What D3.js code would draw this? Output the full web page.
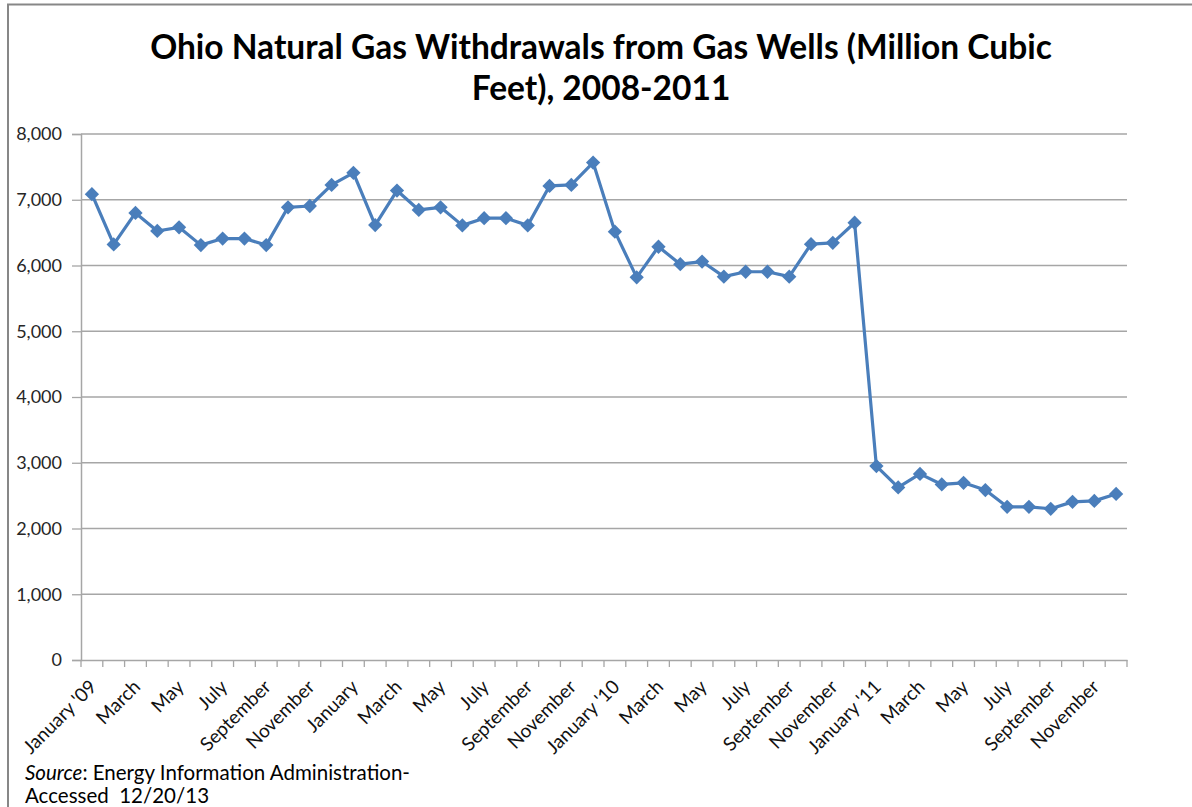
<!DOCTYPE html>
<html>
<head>
<meta charset="utf-8">
<script src="https://cdn.jsdelivr.net/npm/d3@7"></script>
<style>
  html, body { margin: 0; padding: 0; background: #fff; }
  svg { display: block; }
  text { font-family: Lato, "Open Sans", sans-serif; }
</style>
</head>
<body>
<svg id="chart" width="1192" height="807"></svg>
<script>
// Monthly withdrawals from Ohio gas wells, million cubic feet
const categories = [
  "January '09", "February", "March", "April", "May", "June",
  "July", "August", "September", "October", "November", "December",
  "January", "February", "March", "April", "May", "June",
  "July", "August", "September", "October", "November", "December",
  "January '10", "February", "March", "April", "May", "June",
  "July", "August", "September", "October", "November", "December",
  "January '11", "February", "March", "April", "May", "June",
  "July", "August", "September", "October", "November", "December"
];
const withdrawals = [
  7085, 6320, 6800, 6525, 6580, 6310, 6410, 6410, 6310, 6885, 6905, 7225,
  7410, 6615, 7140, 6845, 6885, 6610, 6720, 6720, 6610, 7210, 7225, 7565,
  6515, 5820, 6285, 6020, 6060, 5830, 5905, 5905, 5830, 6325, 6345, 6650,
  2950, 2625, 2830, 2670, 2695, 2585, 2330, 2330, 2300, 2405, 2420, 2525
];
const yTicks = [0, 1000, 2000, 3000, 4000, 5000, 6000, 7000, 8000];
const titleLines = ["Ohio Natural Gas Withdrawals from Gas Wells (Million Cubic", "Feet), 2008-2011"];

const svg = d3.select("#chart");
const plot = { left: 81, right: 1127, top: 134, bottom: 660 };

// outer frame of the chart area
svg.append("rect")
  .attr("x", 8).attr("y", 4.5)
  .attr("width", 1300).attr("height", 1000)
  .attr("fill", "none").attr("stroke", "#878787").attr("stroke-width", 2);

const x = d3.scaleBand().domain(d3.range(categories.length)).range([plot.left, plot.right]).padding(0);
const y = d3.scaleLinear().domain([0, 8000]).range([plot.bottom, plot.top]);
const cx = i => x(i) + x.bandwidth() / 2;

// horizontal gridlines
svg.append("g").selectAll("line").data(yTicks.filter(d => d > 0)).join("line")
  .attr("x1", plot.left).attr("x2", plot.right)
  .attr("y1", d => y(d)).attr("y2", d => y(d))
  .attr("stroke", "#a6a6a6").attr("stroke-width", 1.3);

// y axis
const yAxis = svg.append("g")
  .attr("transform", `translate(${plot.left},0)`)
  .call(d3.axisLeft(y).tickValues(yTicks).tickSize(9).tickPadding(10).tickFormat(d3.format(",")));
yAxis.select(".domain").attr("stroke", "#a6a6a6").attr("stroke-width", 1.5);
yAxis.selectAll(".tick line").attr("stroke", "#a6a6a6").attr("stroke-width", 1.3);
yAxis.selectAll(".tick text")
  .attr("font-family", "Lato, sans-serif").attr("font-size", 18).attr("fill", "#262626");

// x axis: labels on every other month, tick marks on category boundaries
const xAxis = svg.append("g")
  .attr("transform", `translate(0,${plot.bottom})`)
  .call(d3.axisBottom(x).tickSize(0).tickFormat(i => i % 2 === 0 ? categories[i] : ""));
xAxis.select(".domain").attr("stroke", "#a6a6a6").attr("stroke-width", 1.5);
xAxis.selectAll(".tick text")
  .attr("font-family", "Lato, sans-serif").attr("font-size", 19).attr("fill", "#111")
  .attr("text-anchor", "end")
  .attr("x", 0).attr("y", 0).attr("dy", 0)
  .attr("transform", "translate(6,28) rotate(-45)");

svg.append("g").selectAll("line").data(d3.range(categories.length + 1)).join("line")
  .attr("x1", i => plot.left + i * x.bandwidth()).attr("x2", i => plot.left + i * x.bandwidth())
  .attr("y1", plot.bottom).attr("y2", plot.bottom + 7)
  .attr("stroke", "#a6a6a6").attr("stroke-width", 1.3);

// series line and diamond markers
const line = d3.line().x((d, i) => cx(i)).y(d => y(d));
svg.append("path").datum(withdrawals)
  .attr("d", line).attr("fill", "none")
  .attr("stroke", "#4a7ebb").attr("stroke-width", 3.2).attr("stroke-linejoin", "round");

const diamond = d3.symbol().type(d3.symbolDiamond2).size(130);
svg.append("g").selectAll("path").data(withdrawals).join("path")
  .attr("d", diamond)
  .attr("transform", (d, i) => `translate(${cx(i)},${y(d)})`)
  .attr("fill", "#4a7ebb");

// title
svg.append("g").selectAll("text").data(titleLines).join("text")
  .attr("x", 601).attr("y", (d, i) => 59 + i * 41)
  .attr("text-anchor", "middle")
  .attr("font-family", "Lato, sans-serif").attr("font-weight", "bold")
  .attr("font-size", 33.5).attr("fill", "#000")
  .text(d => d);

// source note
const note = svg.append("text").attr("x", 25).attr("y", 780)
  .attr("font-family", "Lato, sans-serif").attr("font-size", 20.5).attr("fill", "#000");
note.append("tspan").attr("font-style", "italic").text("Source");
note.append("tspan").text(": Energy Information Administration-");
svg.append("text").attr("x", 25).attr("y", 803)
  .attr("font-family", "Lato, sans-serif").attr("font-size", 20.5).attr("fill", "#000")
  .attr("xml:space", "preserve")
  .text("Accessed  12/20/13");
</script>
</body>
</html>
